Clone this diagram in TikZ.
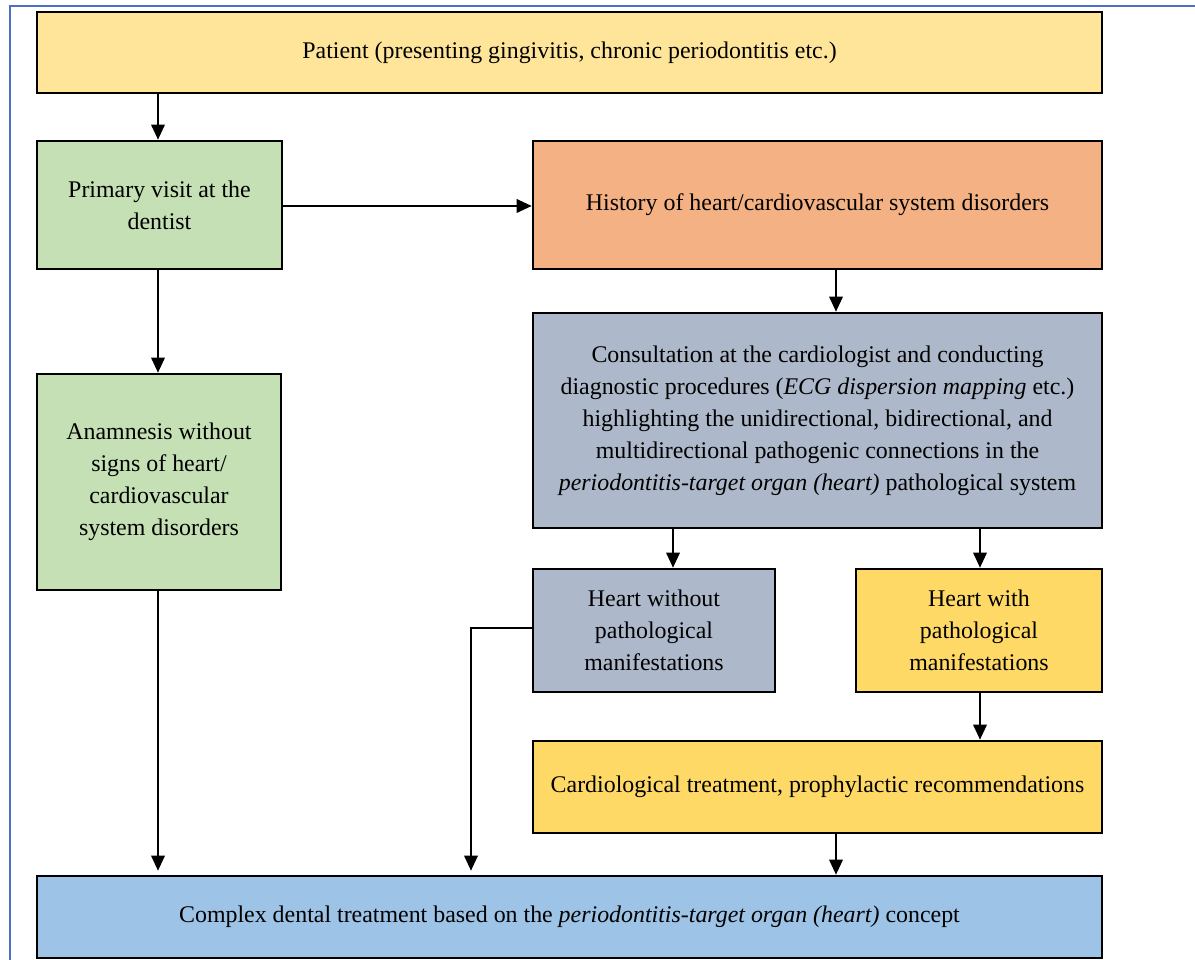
\documentclass[tikz,border=0pt]{standalone}
\usepackage{fontspec}
\setmainfont{Liberation Serif}
\usepackage{tikz}
\usetikzlibrary{arrows.meta}

\definecolor{patientcol}{HTML}{FFE599}
\definecolor{greencol}{HTML}{C5E0B4}
\definecolor{orangecol}{HTML}{F4B183}
\definecolor{greycol}{HTML}{ADB9CA}
\definecolor{yellowcol}{HTML}{FFD966}
\definecolor{bluecol}{HTML}{9DC3E6}
\definecolor{framecol}{HTML}{4A6FC8}

\tikzset{
  box/.style={draw=black, line width=1.8pt, inner sep=0pt, align=center,
    font=\fontsize{17}{22.8}\selectfont},
  link/.style={line width=1.4pt, -{Triangle[length=0.38cm,width=0.34cm]}}
}

\begin{document}
\begin{tikzpicture}
        \useasboundingbox (0,0) rectangle (29.875,24);
        \draw[framecol, line width=0.9pt] (29.875,23.85) -- (0.25,23.85) -- (0.25,0);

        \node[box, fill=patientcol, minimum width=26.625cm, minimum height=2.025cm] (patient) at (14.2375,22.6875)
            {Patient (presenting gingivitis, chronic periodontitis etc.)};
        \node[box, fill=greencol, minimum width=6.125cm, minimum height=3.2cm] (primary) at (3.9875,18.875)
            {Primary visit at the\\dentist};
        \node[box, fill=orangecol, minimum width=14.225cm, minimum height=3.2cm] (history) at (20.4375,18.875)
            {History of heart/cardiovascular system disorders};
        \node[box, fill=greycol, minimum width=14.225cm, minimum height=5.375cm] (consult) at (20.4375,13.4875)
            {Consultation at the cardiologist and conducting\\
             diagnostic procedures (\textit{ECG dispersion mapping} etc.)\\
             highlighting the unidirectional, bidirectional, and\\
             multidirectional pathogenic connections in the\\
             \textit{periodontitis-target organ (heart)} pathological system};
        \node[box, fill=greencol, minimum width=6.1cm, minimum height=5.4cm] (anamnesis) at (3.975,11.95)
            {Anamnesis without\\signs of heart/\\cardiovascular\\system disorders};
        \node[box, fill=greycol, minimum width=6.05cm, minimum height=3.075cm] (heartwo) at (16.35,8.2375)
            {Heart without\\pathological\\manifestations};
        \node[box, fill=yellowcol, minimum width=6.15cm, minimum height=3.075cm] (heartw) at (24.475,8.2375)
            {Heart with\\pathological\\manifestations};
        \node[box, fill=yellowcol, minimum width=14.225cm, minimum height=2.3cm] (cardio) at (20.4375,4.325)
            {Cardiological treatment, prophylactic recommendations};
        \node[box, fill=bluecol, minimum width=26.625cm, minimum height=2.05cm] (complex) at (14.2375,1.075)
            {Complex dental treatment based on the \textit{periodontitis-target organ (heart)} concept};

        % arrow columns
        \coordinate (leftcol) at (3.95,0);
        \coordinate (midcol) at (20.9,0);
        \coordinate (wocol) at (16.825,0);
        \coordinate (wcol) at (24.5,0);
        \coordinate (bend) at (11.775,8.3);

        \draw[link] (patient.south -| leftcol) -- (primary.north -| leftcol);
        \draw[link] (primary.east |- 0,18.85) -- (history.west |- 0,18.85);
        \draw[link] (primary.south -| leftcol) -- (anamnesis.north -| leftcol);
        \draw[link] (history.south -| midcol) -- (consult.north -| midcol);
        \draw[link] (consult.south -| wocol) -- (heartwo.north -| wocol);
        \draw[link] (consult.south -| wcol) -- (heartw.north -| wcol);
        \draw[link] (heartw.south -| wcol) -- (cardio.north -| wcol);
        \draw[link] (cardio.south -| midcol) -- (complex.north -| midcol);
        \draw[link] (anamnesis.south -| leftcol) -- ([yshift=0.1cm]complex.north -| leftcol);
        \draw[link] (heartwo.west |- bend) -- (bend) -- ([yshift=0.1cm]complex.north -| bend);
\end{tikzpicture}
\end{document}
